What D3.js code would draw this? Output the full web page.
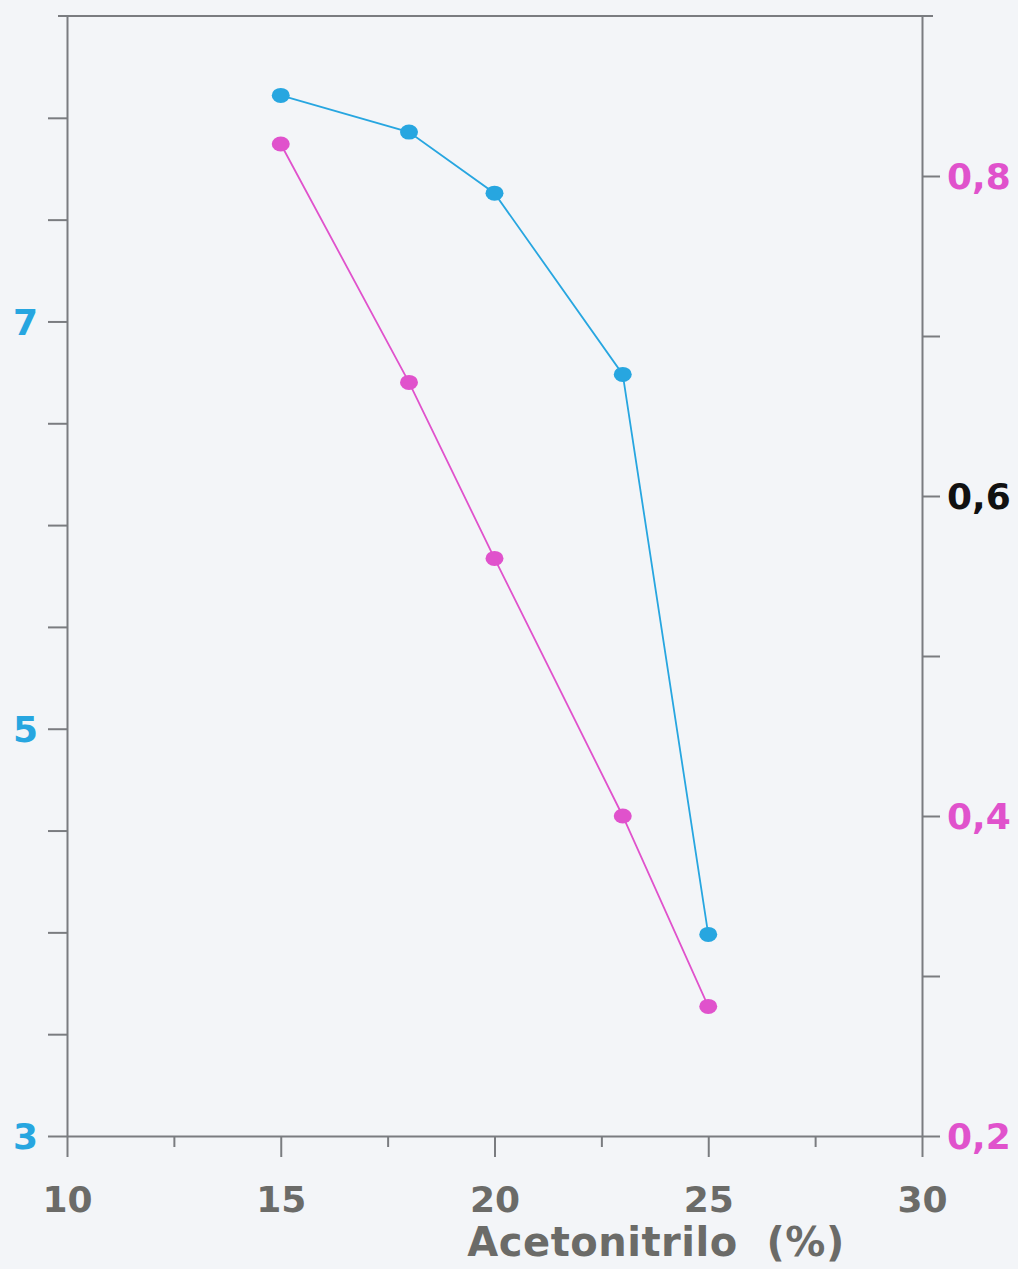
<!DOCTYPE html>
<html lang="es">
  <head>
    <meta charset="UTF-8" />
    <title>Acetonitrilo</title>
    <style>
      body { margin: 0; background: #f3f5f8; }
      svg { display: block; }
      text { font-family: "DejaVu Sans", "Liberation Sans", sans-serif; font-weight: bold; }
    </style>
  </head>
  <body>
    <svg width="1018" height="1269"></svg>
    <script src="https://d3js.org/d3.v7.min.js"></script>
    <script>
      // data
      const acetonitrilo = [15, 18, 20, 23, 25];
      const leftSeries = [8.11, 7.93, 7.63, 6.74, 3.99];   // blue, left axis
      const rightSeries = [0.82, 0.671, 0.561, 0.40, 0.281]; // pink, right axis
      const xTicks = [10, 15, 20, 25, 30];
      const leftTicks = [3, 5, 7];
      const rightTicks = [0.2, 0.4, 0.6, 0.8];

      const blue = "#27a6e0", pink = "#e052cc", axisCol = "#7a7c80", grey = "#6b6b68";
      const m = { left: 67, right: 922, top: 16, bottom: 1136 };

      const svg = d3.select("svg");

      const x = d3.scaleLinear().domain([10, 30]).range([m.left, m.right]);
      const yL = d3.scaleLinear().domain([3, 8.5]).range([m.bottom, m.top]);
      const yR = d3.scaleLinear().domain([0.2, 0.9]).range([m.bottom, m.top]);

      // top frame line, a bit longer than the plot
      svg.append("line").attr("x1", m.left - 9).attr("x2", m.right + 11)
        .attr("y1", m.top).attr("y2", m.top)
        .attr("stroke", axisCol).attr("stroke-width", 2);

      // bottom axis
      const gx = svg.append("g").attr("transform", `translate(0,${m.bottom})`);
      gx.call(d3.axisBottom(x).tickValues(d3.range(10, 30.1, 2.5)).tickSize(0).tickSizeOuter(0).tickFormat(""));
      gx.select(".domain").attr("stroke", axisCol).attr("stroke-width", 2);
      gx.selectAll(".tick").append("line")
        .attr("y2", d => (d % 5 === 0 ? 21 : 11))
        .attr("stroke", axisCol).attr("stroke-width", 2);
      gx.selectAll(".tick").filter(d => xTicks.includes(d)).append("text")
        .attr("y", 76).attr("fill", grey).attr("font-size", 36)
        .attr("text-anchor", "middle").text(d => d);

      // left axis
      const gl = svg.append("g").attr("transform", `translate(${m.left},0)`);
      gl.call(d3.axisLeft(yL).tickValues(d3.range(3, 8.1, 0.5)).tickSize(0).tickSizeOuter(0).tickFormat(""));
      gl.select(".domain").attr("stroke", axisCol).attr("stroke-width", 2);
      gl.selectAll(".tick").append("line").attr("x2", -19)
        .attr("stroke", axisCol).attr("stroke-width", 2);
      gl.selectAll(".tick").filter(d => leftTicks.includes(d)).append("text")
        .attr("x", -29).attr("dy", "0.36em").attr("fill", blue).attr("font-size", 36)
        .attr("text-anchor", "end").text(d => d);

      // right axis
      const gr = svg.append("g").attr("transform", `translate(${m.right},0)`);
      gr.call(d3.axisRight(yR).tickValues(d3.range(0.2, 0.81, 0.1)).tickSize(0).tickSizeOuter(0).tickFormat(""));
      gr.select(".domain").attr("stroke", axisCol).attr("stroke-width", 2);
      gr.selectAll(".tick").append("line").attr("x2", 18)
        .attr("stroke", axisCol).attr("stroke-width", 2);
      gr.selectAll(".tick").filter(d => rightTicks.some(t => Math.abs(t - d) < 1e-6)).append("text")
        .attr("x", 25).attr("dy", "0.36em").attr("font-size", 36)
        .attr("fill", d => (Math.abs(d - 0.6) < 1e-6 ? "#111" : pink))
        .text(d => d3.format(".1f")(d).replace(".", ","));

      // axis title
      svg.append("text").attr("x", 656).attr("y", 1256)
        .attr("text-anchor", "middle").attr("fill", grey).attr("font-size", 40)
        .attr("letter-spacing", 0.5)
        .style("white-space", "pre")
        .text("Acetonitrilo  (%)");

      function drawSeries(values, y, color) {
        const pts = acetonitrilo.map((a, i) => [x(a), y(values[i])]);
        svg.append("path").attr("d", d3.line()(pts))
          .attr("fill", "none").attr("stroke", color).attr("stroke-width", 1.8);
        svg.append("g").selectAll("ellipse").data(pts).join("ellipse")
          .attr("cx", d => d[0]).attr("cy", d => d[1])
          .attr("rx", 9).attr("ry", 7.5).attr("fill", color);
      }
      drawSeries(rightSeries, yR, pink);
      drawSeries(leftSeries, yL, blue);
    </script>
  </body>
</html>
